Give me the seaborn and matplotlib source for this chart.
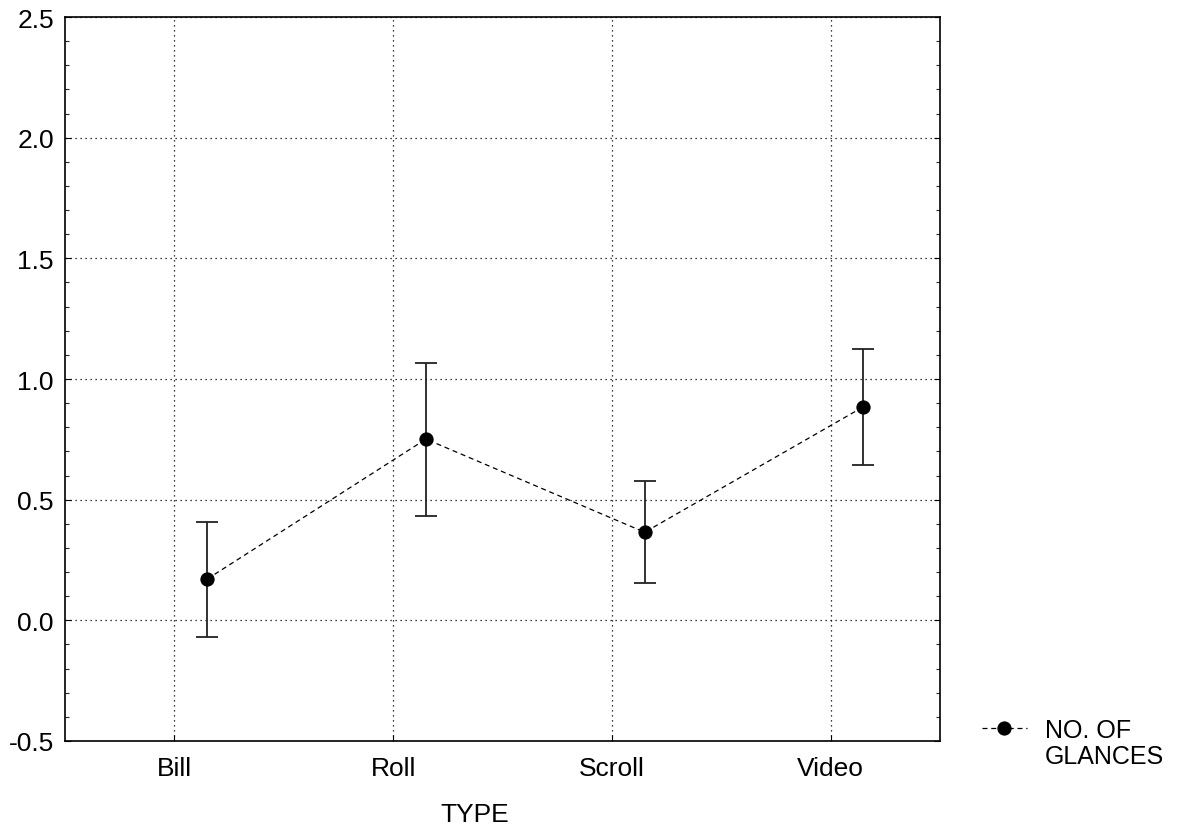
import numpy as np
import pandas as pd
import matplotlib
matplotlib.use("Agg")
import matplotlib.pyplot as plt
import seaborn as sns
from matplotlib.ticker import MultipleLocator

# Data
types = ["Bill", "Roll", "Scroll", "Video"]
means = [0.171, 0.751, 0.365, 0.885]
err_low = [-0.068, 0.433, 0.155, 0.645]
err_high = [0.409, 1.066, 0.576, 1.124]
series_label = ["NO. OF", "GLANCES"]

sns.set_style("ticks")
plt.rcParams["font.family"] = ["Liberation Sans", "DejaVu Sans"]
plt.rcParams["text.color"] = "black"
plt.rcParams["axes.labelcolor"] = "black"

df = pd.DataFrame({"TYPE": types, "mean": means, "lo": err_low, "hi": err_high})
df["pos"] = np.arange(len(df)) + 0.15

fig = plt.figure(figsize=(11.8, 8.29), dpi=100)
ax = fig.add_axes([65 / 1180, 87 / 829, 875 / 1180, 724 / 829])

ax.errorbar(df["pos"], df["mean"],
            yerr=[df["mean"] - df["lo"], df["hi"] - df["mean"]],
            fmt="none", ecolor="#222222", elinewidth=1.3, capsize=8, capthick=1.3, zorder=3)
sns.lineplot(data=df, x="pos", y="mean", color="black", linestyle=(0, (4, 3)), linewidth=0.9,
             marker="o", markersize=9.5, markeredgecolor="black", label=series_label[0],
             legend=False, ax=ax, zorder=4)

ax.set_xlim(-0.5, 3.5)
ax.set_ylim(-0.5, 2.5)
ax.set_xticks(range(len(types)))
ax.set_xticklabels(types)
ax.yaxis.set_major_locator(MultipleLocator(0.5))
ax.yaxis.set_minor_locator(MultipleLocator(0.1))
ax.set_yticklabels([f"{v:.1f}" for v in ax.get_yticks()])
ax.tick_params(axis="both", labelsize=19, direction="in", length=4, width=0.8, colors="black")
ax.tick_params(axis="y", which="both", left=True, right=True, pad=8)
ax.tick_params(axis="y", which="minor", direction="in", length=3, width=0.8)
ax.tick_params(axis="x", pad=11)
ax.grid(True, which="major", linestyle=(0, (1, 3)), linewidth=0.9, color="black")
for spine in ax.spines.values():
    spine.set_linewidth(1.2)
    spine.set_color("black")

ax.set_ylabel("")
ax.set_xlabel("TYPE", fontsize=19, color="black")
ax.xaxis.set_label_coords((475 - 65) / 875, -0.084)

# legend: handle sits beside the first line of the label
handles, labels = ax.get_legend_handles_labels()
leg = fig.legend(handles, labels, loc="upper left", bbox_to_anchor=(959 / 1180, 1 - 696 / 829),
                 frameon=False, fontsize=18, handlelength=1.8, handletextpad=0.75)
for t in leg.get_texts():
    t.set_color("black")
fig.canvas.draw()
bb = leg.get_texts()[0].get_window_extent().transformed(fig.transFigure.inverted())
fig.text(bb.x0, bb.y1 - 26 / 829, series_label[1], fontsize=18, ha="left", va="top", color="black")

fig.savefig("out.png", dpi=100)
